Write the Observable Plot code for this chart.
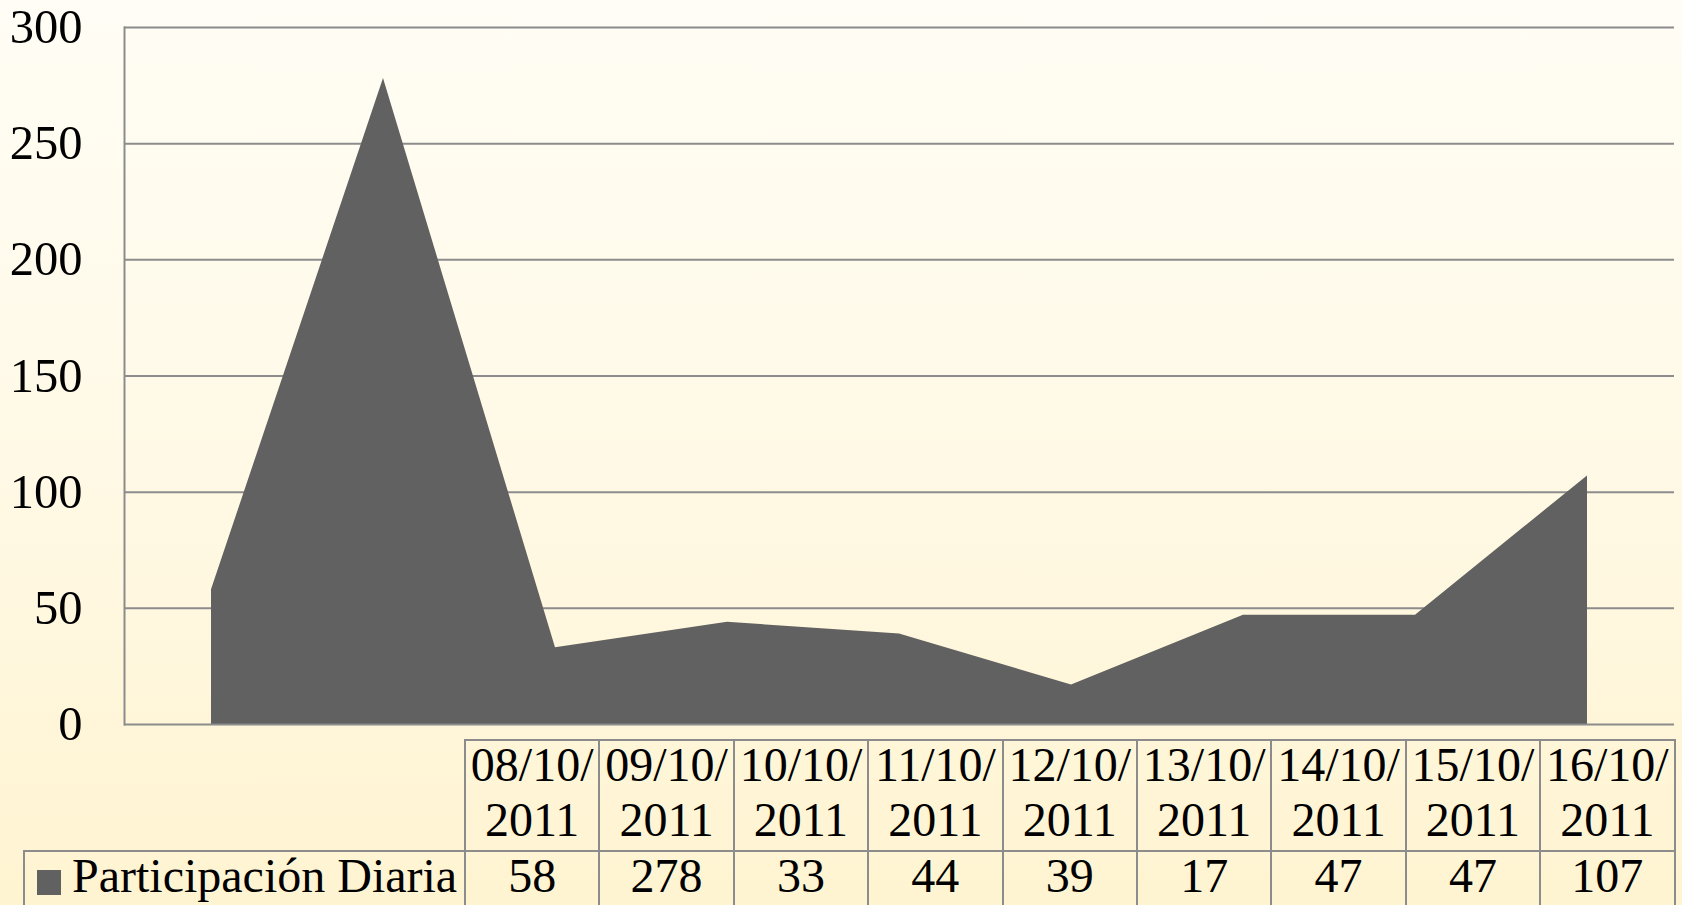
<!DOCTYPE html>
<html>
<head>
<meta charset="utf-8">
<script src="https://cdn.jsdelivr.net/npm/d3@7"></script>
<script src="https://cdn.jsdelivr.net/npm/@observablehq/plot@0.6"></script>
<style>
  html, body { margin: 0; padding: 0; }
  #wrap {
    position: relative; width: 1682px; height: 905px; overflow: hidden;
    background: linear-gradient(to bottom, #fffdf5 0%, #fff9e6 50%, #fff4d1 100%);
    font-family: "Liberation Serif", "Times New Roman", serif;
  }
  #chart { position: absolute; left: 0; top: 0; }
  #tbl {
    position: absolute; left: 23px; top: 739px;
    border-collapse: collapse; table-layout: fixed;
    font-family: "Liberation Serif", "Times New Roman", serif;
    font-size: 48px; color: #000;
  }
  #tbl td { border: 2px solid #8c8c8c; padding: 0; text-align: center; line-height: 54.5px; white-space: nowrap; }
  #tbl td.corner { border-top: none; border-left: none; }
  #tbl tr.head td { height: 108px; vertical-align: top; }
  #tbl tr.vals td { height: 60px; vertical-align: top; padding-top: 0; }
  #tbl td.legend { text-align: left; padding-left: 12px; }
  #tbl td .in { position: relative; top: -3px; display: inline-block; }
  .sw { display: inline-block; width: 24px; height: 25px; background: #616161; margin-right: 11px; vertical-align: -3px; }
</style>
</head>
<body>
<div id="wrap">
  <div id="chart"></div>
  <table id="tbl"></table>
</div>
<script>
const dates = ["08/10/2011", "09/10/2011", "10/10/2011", "11/10/2011", "12/10/2011", "13/10/2011", "14/10/2011", "15/10/2011", "16/10/2011"];
const values = [58, 278, 33, 44, 39, 17, 47, 47, 107];
const seriesName = "Participación Diaria";
const yTicks = [0, 50, 100, 150, 200, 250, 300];

const data = dates.map((d, i) => ({date: d, value: values[i]}));

const chart = Plot.plot({
  width: 1682,
  height: 740,
  marginTop: 27,
  marginBottom: 16,
  marginLeft: 124,
  marginRight: 8,
  style: {
    background: "transparent",
    fontFamily: "'Liberation Serif', 'Times New Roman', serif",
    fontSize: "48.5px",
    color: "#000",
    overflow: "visible"
  },
  x: {type: "point", domain: dates, padding: 0.5, axis: null},
  y: {domain: [0, 300], ticks: yTicks, tickSize: 0, tickPadding: 42, label: null},
  marks: [
    Plot.ruleY(yTicks.filter(t => t > 0), {stroke: "#8c8c8c", strokeWidth: 2, strokeOpacity: 1}),
    Plot.areaY(data, {x: "date", y: "value", fill: "#616161"}),
    Plot.ruleY([0], {stroke: "#8c8c8c", strokeWidth: 2, strokeOpacity: 1}),
    Plot.frame({anchor: "left", stroke: "#8c8c8c", strokeWidth: 2, strokeOpacity: 1})
  ]
});
document.getElementById("chart").appendChild(chart);

// data table below the chart
const tbl = document.getElementById("tbl");
const colg = document.createElement("colgroup");
const c0 = document.createElement("col"); c0.style.width = "441px"; colg.appendChild(c0);
dates.forEach(() => { const c = document.createElement("col"); c.style.width = "134.4px"; colg.appendChild(c); });
tbl.appendChild(colg);
tbl.style.width = (441 + 134.4 * dates.length) + "px";

function inner(td) { const s = document.createElement("span"); s.className = "in"; td.appendChild(s); return s; }

const head = document.createElement("tr"); head.className = "head";
const corner = document.createElement("td"); corner.className = "corner"; head.appendChild(corner);
dates.forEach(d => {
  const td = document.createElement("td");
  const s = inner(td);
  const k = d.lastIndexOf("/");
  s.appendChild(document.createTextNode(d.slice(0, k + 1)));
  s.appendChild(document.createElement("br"));
  s.appendChild(document.createTextNode(d.slice(k + 1)));
  head.appendChild(td);
});
tbl.appendChild(head);

const row = document.createElement("tr"); row.className = "vals";
const lg = document.createElement("td"); lg.className = "legend";
const ls = inner(lg);
const sw = document.createElement("span"); sw.className = "sw"; ls.appendChild(sw);
ls.appendChild(document.createTextNode(seriesName));
row.appendChild(lg);
values.forEach(v => { const td = document.createElement("td"); inner(td).textContent = v; row.appendChild(td); });
tbl.appendChild(row);
</script>
</body>
</html>
